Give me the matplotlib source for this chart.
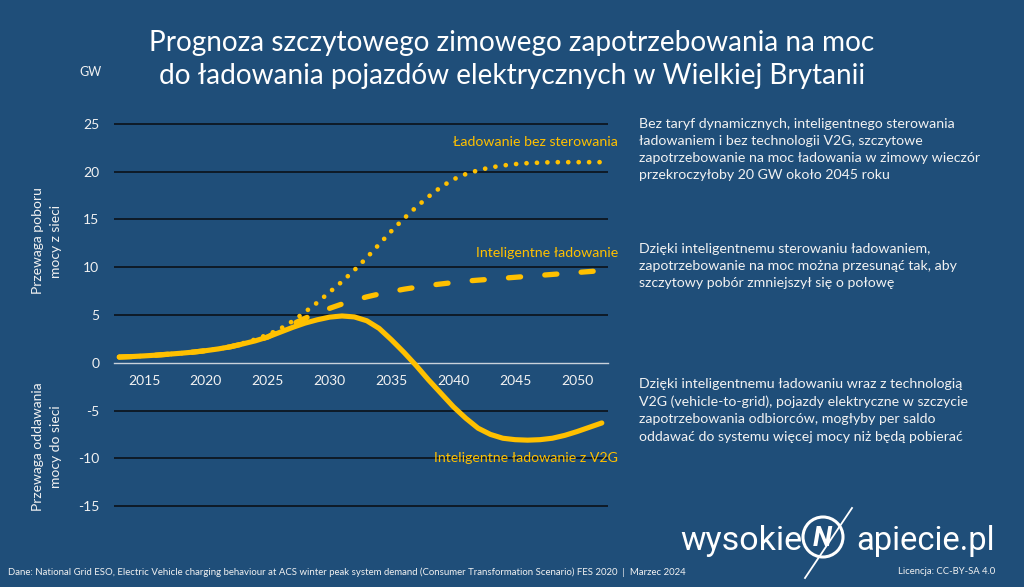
import matplotlib
matplotlib.use("Agg")
import matplotlib.pyplot as plt
from matplotlib.patches import Ellipse
from matplotlib.lines import Line2D

# ---------------- data ----------------
years = list(range(2013, 2053))
v2g = [0.6, 0.65, 0.72, 0.8, 0.9, 1.0, 1.12, 1.27, 1.45, 1.68,
       1.98, 2.3, 2.7, 3.2, 3.7, 4.15, 4.5, 4.78, 4.9, 4.8,
       4.4, 3.6, 2.4, 1.1, -0.3, -1.8, -3.2, -4.6, -5.8, -6.85,
       -7.5, -7.9, -8.05, -8.1, -8.05, -7.9, -7.6, -7.2, -6.75, -6.3]
smart = [0.6, 0.65, 0.72, 0.8, 0.9, 1.0, 1.12, 1.27, 1.45, 1.68,
         1.98, 2.3, 2.7, 3.4, 4.05, 4.65, 5.2, 5.7, 6.15, 6.55,
         6.9, 7.2, 7.45, 7.7, 7.9, 8.1, 8.25, 8.4, 8.55, 8.65,
         8.75, 8.85, 8.95, 9.05, 9.15, 9.25, 9.35, 9.45, 9.55, 9.65]
unmanaged = [0.6, 0.65, 0.72, 0.8, 0.9, 1.0, 1.12, 1.27, 1.45, 1.68,
             2.05, 2.45, 2.95, 3.55, 4.35, 5.3, 6.3, 7.4, 8.5, 9.7,
             11.0, 12.4, 13.8, 15.1, 16.3, 17.4, 18.4, 19.2, 19.75, 20.15,
             20.45, 20.65, 20.8, 20.9, 20.95, 21.0, 21.0, 21.0, 21.0, 21.0]

xticks = [2015, 2020, 2025, 2030, 2035, 2040, 2045, 2050]
yticks = [-15, -10, -5, 0, 5, 10, 15, 20, 25]

title = ("Prognoza szczytowego zimowego zapotrzebowania na moc\n"
         "do ładowania pojazdów elektrycznych w Wielkiej Brytanii")
lab_unmanaged = "Ładowanie bez sterowania"
lab_smart = "Inteligentne ładowanie"
lab_v2g = "Inteligentne ładowanie z V2G"
ylab_top = "Przewaga poboru\nmocy z sieci"
ylab_bot = "Przewaga oddawania\nmocy do sieci"
note1 = ("Bez taryf dynamicznych, inteligentnego sterowania\n"
         "ładowaniem i bez technologii V2G, szczytowe\n"
         "zapotrzebowanie na moc ładowania w zimowy wieczór\n"
         "przekroczyłoby 20 GW około 2045 roku")
note2 = ("Dzięki inteligentnemu sterowaniu ładowaniem,\n"
         "zapotrzebowanie na moc można przesunąć tak, aby\n"
         "szczytowy pobór zmniejszył się o połowę")
note3 = ("Dzięki inteligentnemu ładowaniu wraz z technologią\n"
         "V2G (vehicle-to-grid), pojazdy elektryczne w szczycie\n"
         "zapotrzebowania odbiorców, mogłyby per saldo\n"
         "oddawać do systemu więcej mocy niż będą pobierać")
source = ("Dane: National Grid ESO, Electric Vehicle charging behaviour at ACS winter peak system demand "
          "(Consumer Transformation Scenario) FES 2020  |  Marzec 2024")
licence = "Licencja: CC-BY-SA 4.0"

# ---------------- style ----------------
BG = "#1F4E79"
GOLD = "#FFC000"
WHITE = "#F2F2F2"
plt.rcParams['font.family'] = ['Lato', 'DejaVu Sans']

W, H = 1024, 587
fig = plt.figure(figsize=(W / 100, H / 100), dpi=100, facecolor=BG)
ax = fig.add_axes([114 / W, 0.1216, (608 - 114) / W, 0.6835])
ax.set_facecolor(BG)
ax.set_xlim(2012.57, 2052.5)
ax.set_ylim(-16, 26)

for v in yticks:
    if v != 0:
        ax.axhline(v, color="#0E1A26", lw=1.4, zorder=1)

for s in ['top', 'right', 'left']:
    ax.spines[s].set_visible(False)
ax.spines['bottom'].set_position(('data', 0))
ax.spines['bottom'].set_color("#C9D2DB")
ax.spines['bottom'].set_linewidth(1.0)
ax.spines['bottom'].set_zorder(2)

ax.set_xticks(xticks)
ax.set_xticklabels([str(x) for x in xticks])
ax.set_yticks(yticks)
ax.set_yticklabels([str(y) for y in yticks])
ax.tick_params(axis='x', length=0, pad=9, labelcolor=WHITE, labelsize=10)
ax.tick_params(axis='y', length=0, pad=10.5, labelcolor=WHITE, labelsize=10)

# lines
ax.plot(years, v2g, color=GOLD, lw=3.7, solid_capstyle='round',
        solid_joinstyle='round', zorder=3)
ax.plot(years, smart, color=GOLD, lw=3.8, dashes=(2.3, 4.6),
        dash_capstyle='round', zorder=4)
ax.plot(years, unmanaged, color=GOLD, lw=3.4, dashes=(0.01, 2.2),
        dash_capstyle='round', zorder=5)

# series labels
ax.text(2053.3, 23.15, lab_unmanaged, color=GOLD, fontsize=10.2, ha='right', va='center')
ax.text(2053.3, 11.54, lab_smart, color=GOLD, fontsize=10.2, ha='right', va='center')
ax.text(2053.3, -9.97, lab_v2g, color=GOLD, fontsize=10.2, ha='right', va='center')

def fy(px):
    return 1 - px / H

# title and axis notes
fig.text(0.5, fy(59.5), title, color='white', fontsize=20.2, ha='center',
         va='center', linespacing=1.35)
fig.text(91 / W, fy(72), "GW", color=WHITE, fontsize=9, ha='center', va='center')
fig.text(47 / W, fy(241), ylab_top, color=WHITE, fontsize=10, rotation=90,
         ha='center', va='center', multialignment='center', linespacing=1.6)
fig.text(47 / W, fy(447), ylab_bot, color=WHITE, fontsize=10, rotation=90,
         ha='center', va='center', multialignment='center', linespacing=1.6)

# right notes
for txt, yc in [(note1, 149.4), (note2, 265.8), (note3, 410.4)]:
    fig.text(639 / W, fy(yc), txt, color=WHITE, fontsize=10.2, ha='left',
             va='center', linespacing=1.52)

# footer
fig.text(8 / W, fy(572), source, color=WHITE, fontsize=6.9, ha='left', va='center')
fig.text(995 / W, fy(572), licence, color=WHITE, fontsize=6.8, ha='right', va='center')

# logo
logo_font = ['Liberation Sans Narrow', 'Roboto', 'DejaVu Sans']
fig.text(680 / W, fy(541), "wysokie", color='white', fontsize=24.5,
         family=logo_font, ha='left', va='center')
fig.text(995 / W, fy(541), "apiecie.pl", color='white', fontsize=23.5,
         family=logo_font, ha='right', va='center')
fig.patches.append(Ellipse((823 / W, fy(537)), 40 / W, 40 / H, transform=fig.transFigure,
                           fill=False, edgecolor='white', lw=2.2))
fig.text(822 / W, fy(538), "N", color='white', fontsize=20, fontweight='bold',
         fontstyle='italic', family=logo_font, ha='center', va='center')
fig.lines.append(Line2D([805 / W, 852 / W], [fy(578), fy(508)], transform=fig.transFigure,
                        color='white', lw=1.3))

fig.savefig("out.png", dpi=100, facecolor=BG)
